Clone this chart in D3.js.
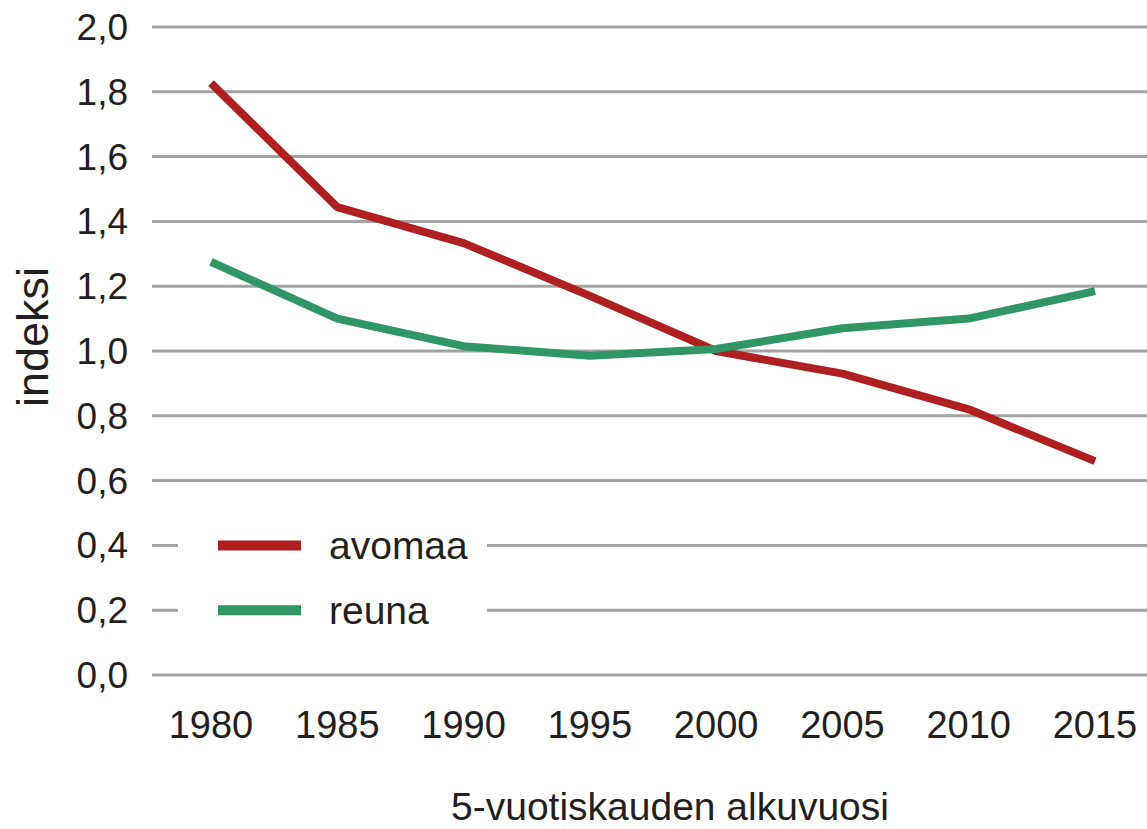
<!DOCTYPE html>
<html><head><meta charset="utf-8">
<script src="https://cdn.jsdelivr.net/npm/d3@7"></script>
<style>body{margin:0;background:#fff}svg{display:block}text{font-family:"Liberation Sans",Arial,sans-serif;fill:#231f20}</style>
</head><body>
<svg id="c" width="1147" height="829"></svg>
<script>
const years = [1980, 1985, 1990, 1995, 2000, 2005, 2010, 2015];
const avomaa = [1.827, 1.444, 1.333, 1.17, 1.0, 0.93, 0.82, 0.66];
const reuna = [1.275, 1.10, 1.015, 0.985, 1.006, 1.07, 1.10, 1.185];
const yTicks = [0, 0.2, 0.4, 0.6, 0.8, 1.0, 1.2, 1.4, 1.6, 1.8, 2.0];
const seriesNames = ["avomaa", "reuna"];
const colors = ["#b01f1f", "#2f9664"];

const svg = d3.select("#c");
const x = d3.scaleLinear().domain([1980, 2015]).range([211, 1095]);
const y = d3.scaleLinear().domain([0, 2]).range([675, 27]);
const fmt = d => d.toFixed(1).replace(".", ",");

// gridlines
svg.append("g").selectAll("line").data(yTicks).join("line")
  .attr("x1", 152).attr("x2", 1147)
  .attr("y1", d => y(d)).attr("y2", d => y(d))
  .attr("stroke", "#a3a3a3").attr("stroke-width", 3);

// y tick labels
svg.append("g").selectAll("text").data(yTicks).join("text")
  .attr("x", 128).attr("y", d => y(d)).attr("dy", "0.35em")
  .attr("text-anchor", "end").attr("font-size", 37).text(fmt);

// x tick labels
svg.append("g").selectAll("text").data(years).join("text")
  .attr("x", d => x(d)).attr("y", 738)
  .attr("text-anchor", "middle").attr("font-size", 38).text(d => d);

// axis titles
svg.append("text").attr("x", 670).attr("y", 820).attr("text-anchor", "middle")
  .attr("font-size", 39).text("5-vuotiskauden alkuvuosi");
svg.append("text").attr("transform", "translate(48,337) rotate(-90)")
  .attr("text-anchor", "middle").attr("font-size", 45).text("indeksi");

// legend background
svg.append("rect").attr("x", 178).attr("y", 518).attr("width", 309).attr("height", 120).attr("fill", "#fff");

// lines
const line = d3.line().x((d, i) => x(years[i])).y(d => y(d));
[avomaa, reuna].forEach((s, k) => {
  svg.append("path").datum(s).attr("d", line).attr("fill", "none")
    .attr("stroke", colors[k]).attr("stroke-width", 8).attr("stroke-linejoin", "round");
});

// legend
const lg = svg.append("g").selectAll("g").data(seriesNames).join("g")
  .attr("transform", (d, i) => `translate(218,${y(0.4) + i * (y(0.2) - y(0.4))})`);
lg.append("line").attr("x1", 0).attr("x2", 83).attr("stroke", (d, i) => colors[i]).attr("stroke-width", 10);
lg.append("text").attr("x", 111).attr("dy", "0.35em").attr("font-size", 39).text(d => d);
</script>
</body></html>
